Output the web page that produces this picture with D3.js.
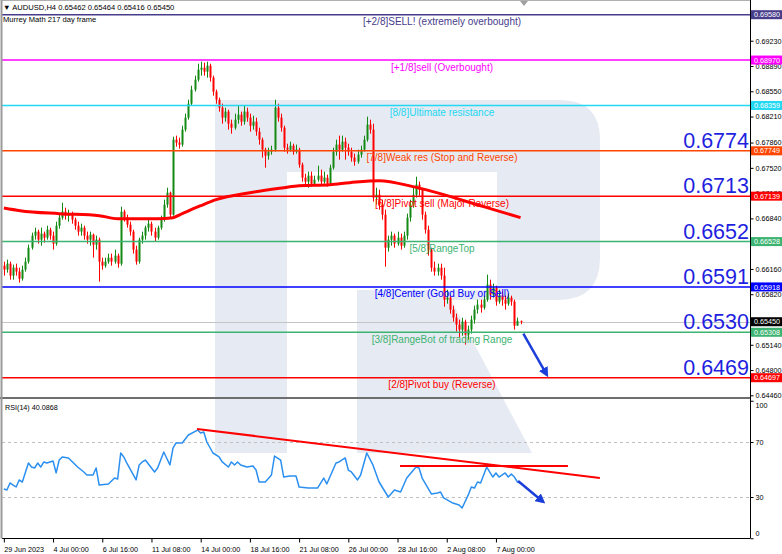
<!DOCTYPE html>
<html><head><meta charset="utf-8">
<script src="https://cdn.jsdelivr.net/npm/d3@7/dist/d3.min.js"></script>
<style>
html,body{margin:0;padding:0;background:#fff;overflow:hidden}
svg{display:block}
text{font-family:"Liberation Sans",Arial,sans-serif}
</style></head><body>
<svg id="chart" width="782" height="554"></svg>
<script>
// ---------------- data ----------------
const symbolHeader = "\u25BC AUDUSD,H4  0.65462 0.65464 0.65416 0.65450";
const indicatorTitle = "Murrey Math 217 day frame";

const opens = [
.66204,.66151,.66231,.66070,.66177,.66124,.66029,.66151,.66258,.66446,
.66608,.66662,.66554,.66635,.66581,.66688,.66608,.66500,.66742,.66850,
.66931,.66877,.66904,.66823,.66742,.66662,.66715,.66608,.66554,.66621,
.66487,.66554,.66258,.66204,.66258,.66312,.66258,.66339,.66231,.66931,
.66850,.66756,.66662,.66420,.66258,.66554,.66608,.66715,.66769,.66662,
.66581,.66715,.66823,.67025,.67186,.66890,.67899,.67859,.67832,.68034,
.68195,.68383,.68572,.68706,.68840,.68867,.68814,.68894,.68733,.68545,
.68437,.68329,.68195,.68276,.68114,.68060,.68168,.68235,.68141,.68276,
.68195,.68087,.68141,.68007,.67899,.67765,.67684,.67738,.67765,.68329,
.68195,.68060,.67791,.67765,.67818,.67738,.67765,.67563,.67388,.67334,
.67415,.67307,.67361,.67415,.67334,.67388,.67307,.67522,.67738,.67832,
.67765,.67872,.67791,.67738,.67657,.67603,.67697,.67765,.67899,.68101,
.68034,.67119,.67159,.67025,.66890,.66446,.66554,.66608,.66500,.66581,
.66473,.66608,.66850,.67025,.67159,.67294,.67226,.66890,.66688,.66420,
.66177,.66124,.66177,.66070,.65747,.65774,.65613,.65505,.65411,.65344,
.65451,.65276,.65344,.65478,.65613,.65680,.65639,.65747,.65949,.65814,
.65908,.65720,.65801,.65747,.65693,.65774,.65720,.65397,.65462];

const highs = [
.66258,.66285,.66258,.66218,.66231,.66177,.66204,.66312,.66487,.66648,
.66715,.66688,.66715,.66662,.66742,.66715,.66662,.66796,.66904,.67052,
.66984,.66957,.66931,.66850,.66796,.66769,.66742,.66662,.66662,.66635,
.66608,.66581,.66312,.66312,.66366,.66366,.66420,.66366,.66998,.66957,
.66890,.66796,.66688,.66473,.66581,.66662,.66742,.66823,.66796,.66715,
.66742,.66877,.67092,.67253,.67200,.67939,.67953,.67926,.68087,.68249,
.68437,.68625,.68760,.68921,.68948,.68935,.68948,.68921,.68760,.68572,
.68464,.68383,.68329,.68302,.68168,.68249,.68356,.68276,.68356,.68329,
.68249,.68222,.68195,.68060,.67926,.67791,.67791,.67818,.68437,.68383,
.68249,.68087,.67845,.67872,.67845,.67832,.67791,.67590,.67442,.67469,
.67469,.67415,.67549,.67496,.67469,.67428,.67563,.67791,.67899,.67953,
.67953,.67926,.67845,.67791,.67711,.67765,.67818,.67953,.68208,.68168,
.68114,.67253,.67226,.67092,.66957,.66608,.66662,.66635,.66662,.66635,
.66662,.66904,.67092,.67253,.67401,.67334,.67253,.66931,.66742,.66446,
.66258,.66231,.66231,.66177,.65881,.65801,.65666,.65559,.65478,.65505,
.65478,.65397,.65532,.65666,.65747,.65747,.65801,.66083,.66016,.65962,
.65935,.65881,.65855,.65801,.65828,.65801,.65747,.65505,.65464];

const lows = [
.66070,.66110,.66016,.66016,.66070,.65976,.66003,.66124,.66231,.66420,
.66554,.66500,.66473,.66514,.66554,.66554,.66420,.66473,.66702,.66823,
.66823,.66796,.66769,.66688,.66608,.66608,.66554,.66500,.66473,.66312,
.66420,.65989,.66151,.66177,.66231,.66204,.66231,.66177,.66204,.66796,
.66715,.66608,.66366,.66218,.66231,.66500,.66554,.66662,.66608,.66527,
.66554,.66688,.66796,.66984,.66850,.66877,.67805,.67778,.67805,.68007,
.68168,.68356,.68545,.68679,.68760,.68760,.68733,.68679,.68491,.68383,
.68276,.68114,.68141,.68034,.67980,.68034,.68114,.68087,.68101,.68141,
.68007,.68034,.67953,.67832,.67657,.67522,.67630,.67697,.67738,.68141,
.68007,.67738,.67711,.67738,.67697,.67711,.67522,.67334,.67280,.67253,
.67267,.67280,.67334,.67294,.67307,.67267,.67280,.67496,.67684,.67630,
.67738,.67630,.67684,.67603,.67549,.67576,.67657,.67738,.67872,.67980,
.67065,.67025,.66957,.66823,.66191,.66393,.66473,.66446,.66473,.66420,
.66446,.66554,.66796,.66984,.67119,.67146,.66823,.66635,.66339,.66124,
.66070,.66070,.66016,.65653,.65693,.65559,.65451,.65317,.65236,.65263,
.65142,.65209,.65290,.65424,.65559,.65572,.65613,.65720,.65747,.65774,
.65666,.65693,.65666,.65613,.65666,.65666,.65344,.65397,.65416];

const closes = [
.66151,.66231,.66070,.66177,.66124,.66029,.66151,.66258,.66446,.66608,
.66662,.66554,.66635,.66581,.66688,.66608,.66500,.66742,.66850,.66931,
.66877,.66904,.66823,.66742,.66662,.66715,.66608,.66554,.66621,.66487,
.66554,.66258,.66204,.66258,.66312,.66258,.66339,.66231,.66931,.66850,
.66756,.66662,.66420,.66258,.66554,.66608,.66715,.66769,.66662,.66581,
.66715,.66823,.67025,.67186,.66890,.67899,.67859,.67832,.68034,.68195,
.68383,.68572,.68706,.68840,.68867,.68814,.68894,.68733,.68545,.68437,
.68329,.68195,.68276,.68114,.68060,.68168,.68235,.68141,.68276,.68195,
.68087,.68141,.68007,.67899,.67765,.67684,.67738,.67765,.68329,.68195,
.68060,.67791,.67765,.67818,.67738,.67765,.67563,.67388,.67334,.67415,
.67307,.67361,.67415,.67334,.67388,.67307,.67522,.67738,.67832,.67765,
.67872,.67791,.67738,.67657,.67603,.67697,.67765,.67899,.68101,.68034,
.67119,.67159,.67025,.66890,.66446,.66554,.66608,.66500,.66581,.66473,
.66608,.66850,.67025,.67159,.67294,.67226,.66890,.66688,.66420,.66177,
.66124,.66177,.66070,.65747,.65774,.65613,.65505,.65411,.65344,.65451,
.65276,.65344,.65478,.65613,.65680,.65639,.65747,.65949,.65814,.65908,
.65720,.65801,.65747,.65693,.65774,.65720,.65397,.65462,.65450];

const dateTickIndex = [0,16,32,48,64,80,96,112,128,144,160];
const dateTickLabels = ["29 Jun 2023","4 Jul 00:00","6 Jul 16:00","11 Jul 08:00","14 Jul 00:00","18 Jul 16:00","21 Jul 08:00","26 Jul 00:00","28 Jul 16:00","2 Aug 08:00","7 Aug 00:00"];

const priceTicks = [0.69230,0.68890,0.68550,0.68210,0.67860,0.67520,0.67180,0.66840,0.66160,0.65820,0.65140,0.64800,0.64460];

const levelValues = [0.69580,0.68970,0.68359,0.67749,0.67139,0.66528,0.65918,0.65308,0.64697];
const levelNames = ["[+2/8]SELL! (extremely overbought)","[+1/8]sell (Overbought)","[8/8]Ultimate resistance","[7/8]Weak res (Stop and Reverse)","[6/8]Pivot sell (Major Reverse)","[5/8]RangeTop","[4/8]Center (Good Buy or Sell)","[3/8]RangeBot of trading Range","[2/8]Pivot buy (Reverse)"];
const levelColors = ["#483d8b","#ff00ff","#22d8f2","#ff4500","#ff0000","#3cb371","#0000ff","#3cb371","#ff0000"];

const bigLabelValues = [0.6774,0.6713,0.6652,0.6591,0.6530,0.6469];
const currentPrice = 0.65450;

const maIndex  = [0,5.3,18,31,37,50,55,58,64,69,80,91,96,106,112.5,122,133,139.5,156,168];
const maValues = [0.66980,0.66944,0.66904,0.66877,0.66836,0.66836,0.66850,0.66904,0.67011,0.67092,0.67186,0.67253,0.67280,0.67294,0.67321,0.67348,0.67267,0.67200,0.66998,0.66850];

const rsiTitle = "RSI(14) 40.0868";
const rsiIndex = [0,1,2,3,4,5,6,8,9,10,11,12,13,14,16,17,18,19,21,24,26,27,29,30,31,34,36,37,38,39,40,43,44,45,46,49,50,52,54,55,56,58,60,63,64,65,66,68,70,71,73,74,75,76,77,79,81,82,83,85,87,88,90,91,93,95,96,99,102,104,105,108,109,111,112,113,115,116,118,120,122,125,127,129,130,131,134,135,136,139,141,142,143,146,148,149,151,152,153,154,155,156,157,159,160,161,163,164,165,166,167,168];
const rsiValues = [35.8,35.1,40.2,38.7,37.3,42.4,40.9,54.7,51.8,51.1,54.7,51.8,55.5,54.7,56.2,47.5,56.9,59.1,58.4,51.8,48.2,46.0,46.0,51.1,38.7,39.5,43.8,43.1,62.0,59.1,54.7,42.4,53.3,55.5,56.9,48.2,51.1,62.7,53.3,65.5,69.3,69.3,75.1,78.7,76.5,77.3,70.0,62.0,59.1,55.5,51.8,55.5,53.3,55.5,53.3,51.8,52.5,49.6,40.9,40.9,46.0,59.8,56.9,44.5,45.3,45.3,37.3,36.5,36.5,43.8,39.5,54.7,55.5,58.4,49.6,48.2,42.4,46.0,62.0,53.3,40.9,30.0,35.1,33.6,38.7,43.8,51.8,51.1,43.8,32.2,32.9,33.6,29.3,25.6,24.2,22.0,31.5,37.3,36.5,40.9,40.2,46.0,51.8,44.5,47.5,44.5,47.5,44.5,46.7,44.5,40.9,40.09];
const rsiLevels = [70,30];
const rsiTicks = [100,70,30,0];
const rsiTrendA = [[62.8,79.5],[193.8,43.8]];
const rsiTrendB = [[128.8,52.5],[183.4,52.5]];
const priceArrow = [[168.9,0.65290],[176.5,0.64738]];
const rsiArrow = [[167.2,41.6],[175.3,26.6]];

// ---------------- drawing ----------------
const svg = d3.select("#chart");
const L = 2, R = 750, mainTop = 1, mainBot = 397, rsiTop = 399.5, rsiBot = 538.5;
const FS = 7.2;

const x  = d3.scaleLinear().domain([-0.6, 242.6]).range([L, R]);
const y  = d3.scaleLinear().domain([0.64697, 0.69580]).range([377.7, 14.7]);
const yr = d3.scaleLinear().domain([0, 100]).range([538.25, 400.75]);

svg.append("rect").attr("width", 782).attr("height", 554).attr("fill", "#fff");

// watermark
svg.append("path")
  .attr("d", "M215,100H560Q600,100 600,140V258Q600,300 558,300H451L532,453H357V290H497V172H287V453H215Z")
  .attr("fill", "#e6eaf2");

const defs = svg.append("defs");
defs.append("clipPath").attr("id", "cm").append("rect")
  .attr("x", L).attr("y", mainTop).attr("width", R - L).attr("height", mainBot - mainTop);
defs.append("clipPath").attr("id", "cr").append("rect")
  .attr("x", L).attr("y", rsiTop).attr("width", R - L).attr("height", rsiBot - rsiTop);
defs.append("marker").attr("id", "ah").attr("viewBox", "0 0 10 10")
  .attr("refX", 7).attr("refY", 5).attr("markerWidth", 4).attr("markerHeight", 4)
  .attr("orient", "auto")
  .append("path").attr("d", "M0,0L10,5L0,10Z").attr("fill", "#1c3fd9");

const main = svg.append("g").attr("clip-path", "url(#cm)");

// bid line
main.append("line").attr("x1", L).attr("x2", R)
  .attr("y1", Math.round(y(currentPrice)) + 0.5).attr("y2", Math.round(y(currentPrice)) + 0.5)
  .attr("stroke", "#c4c4c4").attr("stroke-width", 1);

// candles
const candles = d3.range(closes.length).map(i => ({i, o: opens[i], h: highs[i], l: lows[i], c: closes[i]}));
const bull = "#138a13", bear = "#ff0000";
const cg = main.append("g");
cg.selectAll("line.w").data(candles).join("line").attr("class", "w")
  .attr("x1", d => Math.round(x(d.i)) + 0.5).attr("x2", d => Math.round(x(d.i)) + 0.5)
  .attr("y1", d => y(d.h)).attr("y2", d => y(d.l))
  .attr("stroke", d => d.c >= d.o ? bull : bear).attr("stroke-width", 1);
cg.selectAll("rect.b").data(candles).join("rect").attr("class", "b")
  .attr("x", d => Math.round(x(d.i)) - 0.5).attr("width", 2)
  .attr("y", d => y(Math.max(d.o, d.c)))
  .attr("height", d => Math.max(1, Math.abs(y(d.o) - y(d.c))))
  .attr("fill", d => d.c >= d.o ? bull : bear);

// Murrey levels
levelValues.forEach((v, k) => {
  const yy = y(v);
  main.append("line").attr("x1", L).attr("x2", R).attr("y1", yy).attr("y2", yy)
    .attr("stroke", levelColors[k]).attr("stroke-width", 1.5);
  svg.append("text").attr("x", 442).attr("y", yy + 10.5).attr("text-anchor", "middle")
    .attr("font-size", "10px").attr("fill", levelColors[k]).text(levelNames[k]);
});

// moving average
const maLine = d3.line().x(d => x(d[0])).y(d => y(d[1])).curve(d3.curveMonotoneX);
main.append("path").datum(maIndex.map((d, k) => [d, maValues[k]]))
  .attr("d", maLine).attr("fill", "none").attr("stroke", "#ff0000").attr("stroke-width", 3)
  .attr("stroke-linejoin", "round");

// price arrow
main.append("path").datum(priceArrow).attr("d", d3.line().x(d => x(d[0])).y(d => y(d[1])))
  .attr("stroke", "#1c3fd9").attr("stroke-width", 2.5).attr("fill", "none").attr("marker-end", "url(#ah)");

// big labels
bigLabelValues.forEach(v => {
  svg.append("text").attr("x", 749).attr("y", y(v) - 3.5).attr("text-anchor", "end")
    .attr("font-size", "21.5px").attr("fill", "#1f1fe0").text(d3.format(".4f")(v));
});

// header
svg.append("text").attr("x", 3).attr("y", 10).attr("font-size", "7.6px").attr("fill", "#000").text(symbolHeader);
svg.append("text").attr("x", 3).attr("y", 22).attr("font-size", "7.6px").attr("fill", "#000").text(indicatorTitle);
svg.append("path").attr("d", "M520,1L528,1L524,6Z").attr("fill", "#a0a0a0");

// RSI panel
const rg = svg.append("g").attr("clip-path", "url(#cr)");
rsiLevels.forEach(v => {
  rg.append("line").attr("x1", L).attr("x2", R).attr("y1", Math.round(yr(v)) + 0.5).attr("y2", Math.round(yr(v)) + 0.5)
    .attr("stroke", "#c0c0c0").attr("stroke-dasharray", "3,3");
});
const rsiLine = d3.line().x(d => x(d[0])).y(d => yr(d[1]));
rg.append("path").datum(rsiIndex.map((d, k) => [d, rsiValues[k]]))
  .attr("d", rsiLine).attr("fill", "none").attr("stroke", "#2b8ff0").attr("stroke-width", 1.5)
  .attr("stroke-linejoin", "round");
[rsiTrendA, rsiTrendB].forEach(t => {
  rg.append("path").datum(t).attr("d", rsiLine).attr("stroke", "#ff0000").attr("stroke-width", 2).attr("fill", "none");
});
rg.append("path").datum(rsiArrow).attr("d", rsiLine)
  .attr("stroke", "#1c3fd9").attr("stroke-width", 2.5).attr("fill", "none").attr("marker-end", "url(#ah)");
svg.append("text").attr("x", 5).attr("y", 410).attr("font-size", FS + "px").attr("fill", "#000").text(rsiTitle);

// frames
svg.append("rect").attr("x", 0).attr("y", 397).attr("width", R).attr("height", 2).attr("fill", "#6e6e6e");
svg.append("line").attr("x1", L).attr("x2", R).attr("y1", 0.5).attr("y2", 0.5).attr("stroke", "#b0b0b0");
svg.append("line").attr("x1", L).attr("x2", R).attr("y1", rsiBot).attr("y2", rsiBot).attr("stroke", "#000");
svg.append("line").attr("x1", 1.5).attr("x2", 1.5).attr("y1", 0).attr("y2", rsiBot).attr("stroke", "#9a9a9a").attr("stroke-width", 2);
svg.append("line").attr("x1", R + 0.5).attr("x2", R + 0.5).attr("y1", 0).attr("y2", rsiBot).attr("stroke", "#000");

// right price axis
const pax = svg.append("g").attr("transform", `translate(${R + 0.5},0)`)
  .call(d3.axisRight(y).tickValues(priceTicks).tickSize(3).tickPadding(2).tickFormat(d3.format(".5f")));
pax.select(".domain").remove();
pax.selectAll("text").attr("font-size", FS + "px").attr("font-family", "Liberation Sans, Arial, sans-serif").attr("fill", "#000");
pax.selectAll("line").attr("stroke", "#000");

// highlighted price labels
const hlVals = levelValues.concat([currentPrice]);
const hlCols = levelColors.concat(["#000000"]);
hlVals.forEach((v, k) => {
  const yy = y(v);
  svg.append("rect").attr("x", R + 1).attr("y", yy - 4.5).attr("width", 31).attr("height", 9).attr("fill", hlCols[k]);
  svg.append("text").attr("x", R + 4).attr("y", yy + 2.6).attr("font-size", FS + "px").attr("fill", "#fff")
    .text(d3.format(".5f")(v));
});

// RSI axis
const rax = svg.append("g").attr("transform", `translate(${R + 0.5},0)`)
  .call(d3.axisRight(yr).tickValues(rsiTicks).tickSize(3).tickPadding(2));
rax.select(".domain").remove();
rax.selectAll("text").attr("font-size", FS + "px").attr("font-family", "Liberation Sans, Arial, sans-serif").attr("fill", "#000")
  .attr("transform", d => d === 100 ? "translate(0,4.5)" : d === 0 ? "translate(0,-5)" : null);
rax.selectAll("line").attr("stroke", "#000");

// bottom time axis
const tax = svg.append("g").attr("transform", `translate(0,${rsiBot})`)
  .call(d3.axisBottom(x).tickValues(dateTickIndex).tickSize(4).tickPadding(4)
    .tickFormat((d, k) => dateTickLabels[k]));
tax.select(".domain").remove();
tax.selectAll("text").attr("text-anchor", "start").attr("font-size", FS + "px")
  .attr("font-family", "Liberation Sans, Arial, sans-serif").attr("fill", "#000");
tax.selectAll("line").attr("stroke", "#000");
</script>
</body></html>
